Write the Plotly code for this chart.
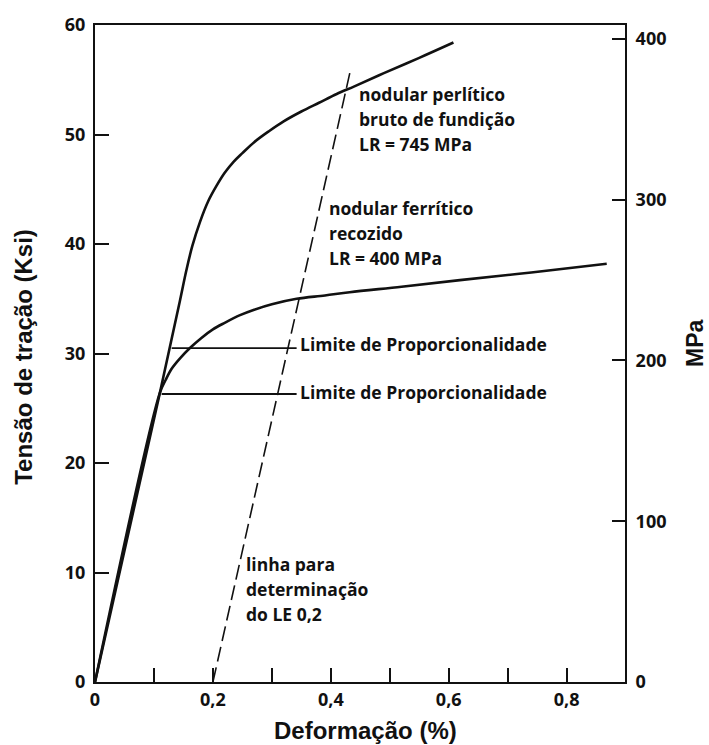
import plotly.graph_objects as go

# ---- data (strain %, stress Ksi) ----
perlitic_x = [0.0, 0.11, 0.144, 0.155, 0.165, 0.178, 0.192, 0.206, 0.22, 0.235, 0.25, 0.27,
              0.295, 0.32, 0.35, 0.38, 0.41, 0.44, 0.49, 0.55, 0.608]
perlitic_y = [0.0, 26.4, 34.8, 37.6, 39.8, 42.0, 43.9, 45.3, 46.5, 47.5, 48.3, 49.3,
              50.3, 51.2, 52.1, 52.9, 53.7, 54.4, 55.6, 57.0, 58.4]

ferritic_x = [0.0, 0.11, 0.12, 0.13, 0.145, 0.161, 0.18, 0.2, 0.22, 0.246, 0.27, 0.3,
              0.342, 0.39, 0.432, 0.52, 0.619, 0.74, 0.868]
ferritic_y = [0.0, 26.4, 27.6, 28.6, 29.6, 30.5, 31.4, 32.2, 32.8, 33.5, 34.0, 34.5,
              35.0, 35.3, 35.6, 36.1, 36.7, 37.4, 38.2]

offset_x = [0.2, 0.433]
offset_y = [0.0, 55.8]

prop_upper_x = [0.130, 0.342]
prop_upper_y = [30.5, 30.5]
prop_lower_x = [0.113, 0.342]
prop_lower_y = [26.3, 26.3]

x_tickvals = [0, 0.1, 0.2, 0.3, 0.4, 0.5, 0.6, 0.7, 0.8]
x_ticktext = ["0", "", "0,2", "", "0,4", "", "0,6", "", "0,8"]
y_tickvals = [0, 10, 20, 30, 40, 50, 60]
y_ticktext = ["0", "10", "20", "30", "40", "50", "60"]
mpa_tickvals = [0, 100, 200, 300, 400]
mpa_ticktext = ["0", "100", "200", "300", "400"]

# annotation texts (one per line) and their anchor points
perl_lines = ["nodular perlítico", "bruto de fundição", "LR = 745 MPa"]
perl_pos = [(0.446, 53.7), (0.446, 51.4), (0.446, 49.1)]
ferr_lines = ["nodular ferrítico", "recozido", "LR = 400 MPa"]
ferr_pos = [(0.395, 43.25), (0.395, 41.0), (0.395, 38.75)]
linha_lines = ["linha para", "determinação", "do LE 0,2"]
linha_pos = [(0.255, 10.75), (0.255, 8.5), (0.255, 6.25)]
limite_lines = ["Limite de Proporcionalidade", "Limite de Proporcionalidade"]
limite_pos = [(0.346, 30.85), (0.346, 26.5)]

INK = "#111111"
TXT = dict(family="Open Sans", size=17.5, color=INK, weight=700)
TICK = dict(family="Open Sans", size=18, color=INK, weight=700)

fig = go.Figure()
fig.add_trace(go.Scatter(x=perlitic_x, y=perlitic_y, mode="lines",
                         line=dict(color=INK, width=2.6, shape="spline", smoothing=1.0),
                         hoverinfo="skip", showlegend=False))
fig.add_trace(go.Scatter(x=ferritic_x, y=ferritic_y, mode="lines",
                         line=dict(color=INK, width=2.6, shape="spline", smoothing=1.0),
                         hoverinfo="skip", showlegend=False))
fig.add_trace(go.Scatter(x=offset_x, y=offset_y, mode="lines",
                         line=dict(color=INK, width=1.6, dash="15px,6px"),
                         hoverinfo="skip", showlegend=False))
for xs, ys in [(prop_upper_x, prop_upper_y), (prop_lower_x, prop_lower_y)]:
    fig.add_trace(go.Scatter(x=xs, y=ys, mode="lines",
                             line=dict(color=INK, width=1.8),
                             hoverinfo="skip", showlegend=False))
# invisible trace to activate the MPa axis
fig.add_trace(go.Scatter(x=[0], y=[0], yaxis="y2", mode="markers",
                         marker=dict(opacity=0), hoverinfo="skip", showlegend=False))

annotations = []
for lines, pos in [(perl_lines, perl_pos), (ferr_lines, ferr_pos),
                   (linha_lines, linha_pos), (limite_lines, limite_pos)]:
    for t, (ax_, ay_) in zip(lines, pos):
        annotations.append(dict(x=ax_, y=ay_, xref="x", yref="y", text=t,
                                showarrow=False, xanchor="left", yanchor="middle",
                                font=TXT, borderpad=0))

TITLE = dict(family="Liberation Sans, Arial, sans-serif", size=24, color=INK, weight=700)
annotations += [
    dict(x=0.511, y=-0.074, xref="paper", yref="paper", text="Deformação (%)",
         showarrow=False, xanchor="center", yanchor="middle", font=TITLE),
    dict(x=-0.134, y=0.495, xref="paper", yref="paper", text="Tensão de tração (Ksi)",
         showarrow=False, xanchor="center", yanchor="middle", textangle=-90, font=TITLE),
    dict(x=1.132, y=0.516, xref="paper", yref="paper", text="MPa",
         showarrow=False, xanchor="center", yanchor="middle", textangle=-90,
         font=dict(TITLE, size=23)),
]

fig.update_layout(
    width=709, height=745,
    margin=dict(l=95, r=84, t=19, b=63, pad=0),
    paper_bgcolor="white", plot_bgcolor="white",
    xaxis=dict(range=[0, 0.899], tickvals=x_tickvals, ticktext=x_ticktext,
               ticks="inside", ticklen=14, tickwidth=2, tickcolor=INK,
               showline=True, linecolor=INK, linewidth=2, mirror=True,
               showgrid=False, zeroline=False, tickfont=TICK, ticklabelstandoff=0),
    yaxis=dict(range=[0, 60], tickvals=y_tickvals, ticktext=y_ticktext,
               ticks="inside", ticklen=14, tickwidth=2, tickcolor=INK,
               showline=True, linecolor=INK, linewidth=2,
               showgrid=False, zeroline=False, tickfont=TICK, ticklabelstandoff=4),
    yaxis2=dict(range=[0, 408.6], tickvals=mpa_tickvals, ticktext=mpa_ticktext,
                overlaying="y", side="right",
                ticks="inside", ticklen=13, tickwidth=2, tickcolor=INK,
                showline=True, linecolor=INK, linewidth=2,
                showgrid=False, zeroline=False, tickfont=TICK, ticklabelstandoff=5),
    annotations=annotations,
)

fig.write_html("out.html")
